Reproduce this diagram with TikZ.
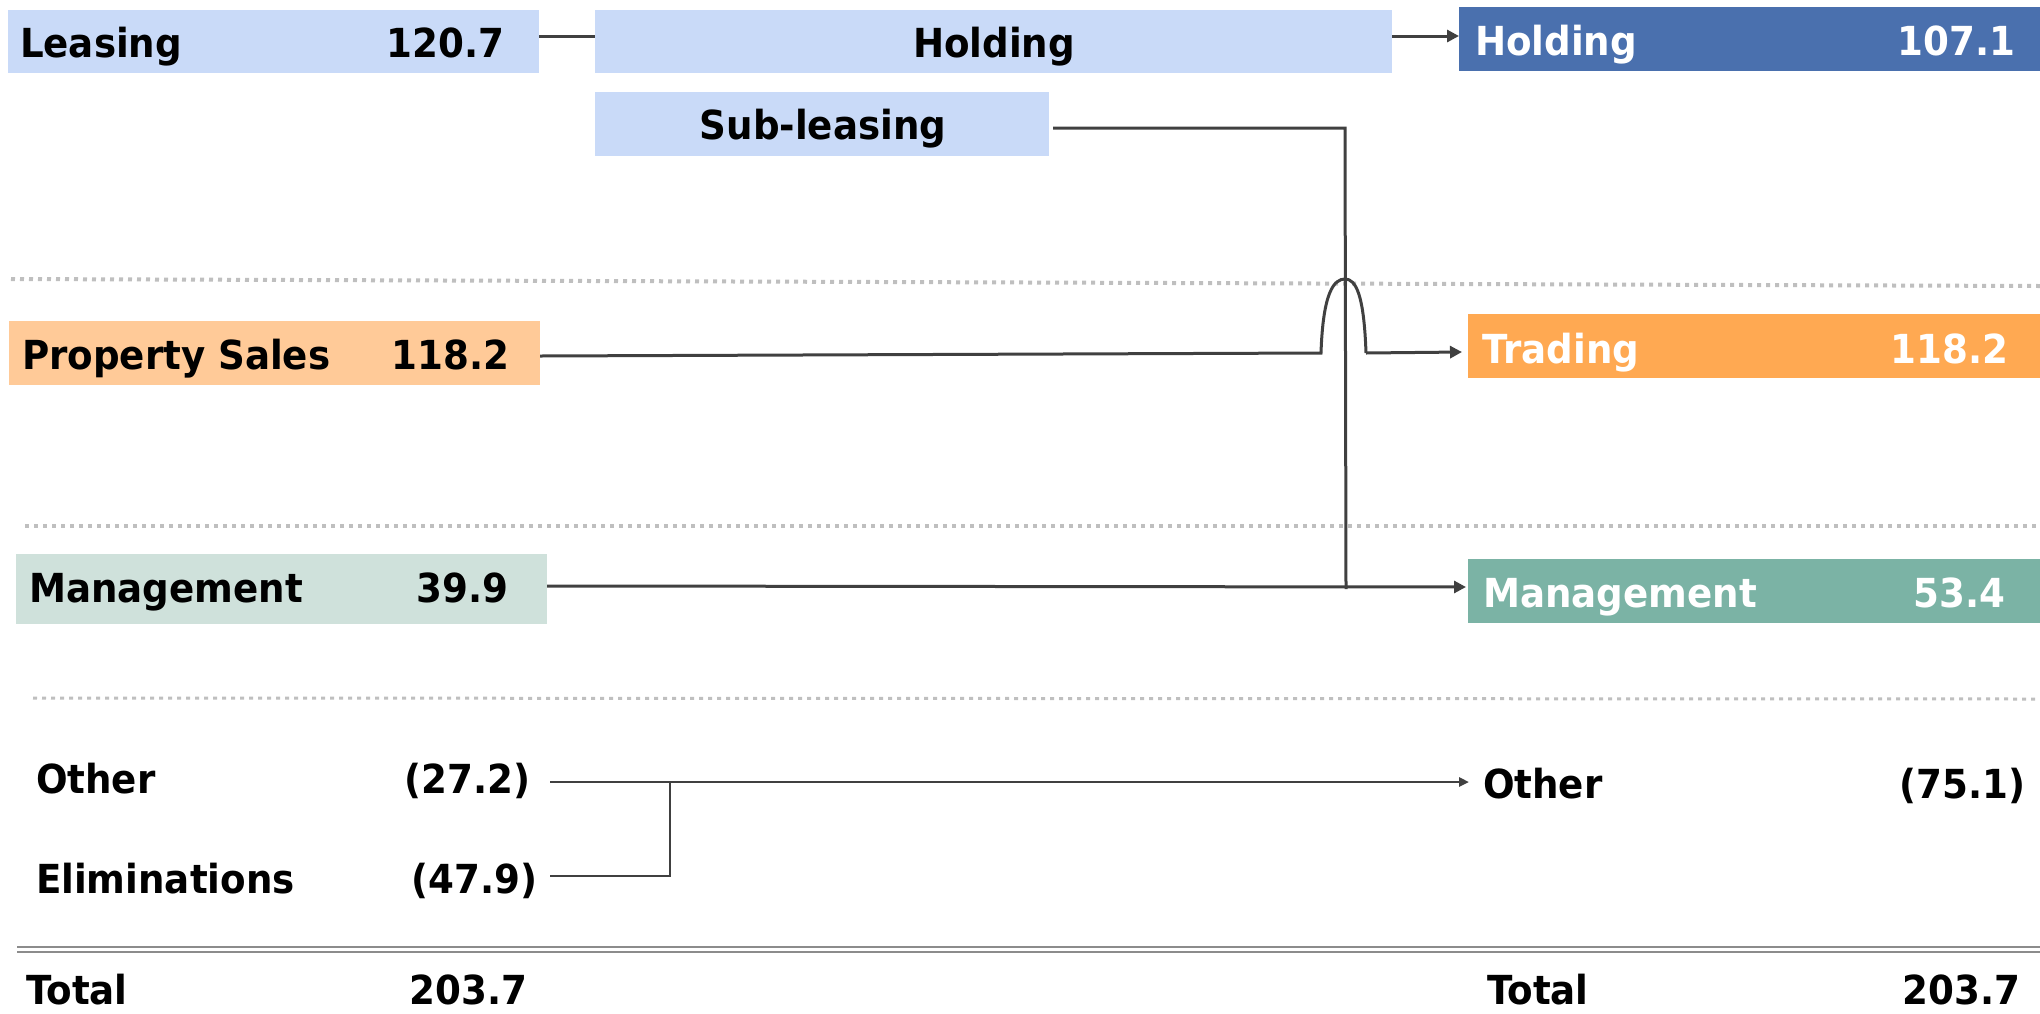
\documentclass[tikz,border=0pt]{standalone}
\usepackage{fontspec}
\setmainfont{DejaVu Sans}[FakeStretch=0.93]
\usetikzlibrary{arrows.meta}
\definecolor{lblue}{HTML}{C9DAF8}
\definecolor{dblue}{HTML}{4A70AE}
\definecolor{lorange}{HTML}{FFCA98}
\definecolor{dorange}{HTML}{FFA952}
\definecolor{lgreen}{HTML}{CFE1DB}
\definecolor{dgreen}{HTML}{7BB3A5}
\definecolor{ln}{HTML}{404040}
\definecolor{dotc}{HTML}{BFBFBF}
\definecolor{dbl}{HTML}{8C8C8C}
\tikzset{
  box/.style={rectangle, inner sep=0pt, outer sep=0pt, draw=none},
  lbl/.style={inner sep=0pt, outer sep=0pt, font=\fontsize{40}{48}\selectfont\bfseries},
  wlbl/.style={lbl, text=white},
  conn/.style={draw=ln, line width=3pt},
  arr/.style={conn, -{Triangle[length=12pt,width=12pt]}},
  sep/.style={draw=dotc, line width=4pt, dash pattern=on 4pt off 5pt},
}
\begin{document}
\begin{tikzpicture}[x=1pt,y=-1pt]
\useasboundingbox (0,0) rectangle (2040,1013);
% separators
\draw[sep] (11,279) -- (2040,286);
\draw[sep] (25,526) -- (2040,526);
\draw[sep, line width=3pt] (33,698) -- (2040,699);
\draw[draw=dbl, line width=2pt] (17,947) -- (2040,947);
\draw[draw=dbl, line width=2pt] (17,952) -- (2040,952);
% boxes
\node[box, fill=lblue, minimum width=531pt, minimum height=63pt] (leasing) at (273.5,41.5) {};
\node[box, fill=lblue, minimum width=797pt, minimum height=63pt] (holdc) at (993.5,41.5) {};
\node[box, fill=dblue, minimum width=581pt, minimum height=64pt] (holdr) at (1749.5,39) {};
\node[box, fill=lblue, minimum width=454pt, minimum height=64pt] (sub) at (822,124) {};
\node[box, fill=lorange, minimum width=531pt, minimum height=64pt] (prop) at (274.5,353) {};
\node[box, fill=dorange, minimum width=572pt, minimum height=64pt] (trad) at (1754,346) {};
\node[box, fill=lgreen, minimum width=531pt, minimum height=70pt] (mgml) at (281.5,589) {};
\node[box, fill=dgreen, minimum width=572pt, minimum height=64pt] (mgmr) at (1754,591) {};
% texts
\node[lbl, anchor=base west] (tleas) at (20,57) {Leasing};
\node[lbl, anchor=base east] (vleas) at (504,57) {120.7};
\node[lbl, anchor=base] (thold) at (994,57) {Holding};
\node[wlbl, anchor=base west] (tholdr) at (1475,55) {Holding};
\node[wlbl, anchor=base east] (vholdr) at (2015,55) {107.1};
\node[lbl, anchor=base] (tsub) at (823,139) {Sub-leasing};
\node[lbl, anchor=base west] (tprop) at (22,369) {Property Sales};
\node[lbl, anchor=base east] (vprop) at (509,369) {118.2};
\node[wlbl, anchor=base west] (ttrad) at (1482,363) {Trading};
\node[wlbl, anchor=base east] (vtrad) at (2008,363) {118.2};
\node[lbl, anchor=base west] (tmgml) at (29,602) {Management};
\node[lbl, anchor=base east] (vmgml) at (508,602) {39.9};
\node[wlbl, anchor=base west] (tmgmr) at (1483,607) {Management};
\node[wlbl, anchor=base east] (vmgmr) at (2005,607) {53.4};
\node[lbl, anchor=base west] (tothl) at (36,793) {Other};
\node[lbl, anchor=base east] (vothl) at (530,793) {(27.2)};
\node[lbl, anchor=base west] (telim) at (36,893) {Eliminations};
\node[lbl, anchor=base east] (velim) at (537,893) {(47.9)};
\node[lbl, anchor=base west] (tothr) at (1483,798) {Other};
\node[lbl, anchor=base east] (vothr) at (2025,798) {(75.1)};
\node[lbl, anchor=base west] (ttotl) at (26,1004) {Total};
\node[lbl, anchor=base east] (vtotl) at (527,1004) {203.7};
\node[lbl, anchor=base west] (ttotr) at (1487,1004) {Total};
\node[lbl, anchor=base east] (vtotr) at (2020,1004) {203.7};
% coordinates
\coordinate (archL) at (1321,353);
\coordinate (archT) at (1345,279);
\coordinate (archR) at (1366,353);
\coordinate (subC) at (1345,128);
\coordinate (subB) at (1346,589);
\coordinate (othS) at (550,782);
\coordinate (elimS) at (550,876);
\coordinate (joinB) at (670,876);
\coordinate (joinT) at (670,782);
% connectors
\draw[conn] ([yshift=5.5pt]leasing.east) -- ([yshift=5.5pt]holdc.west);
\draw[arr] ([yshift=5.5pt]holdc.east) -- ([yshift=3pt]holdr.west);
\draw[conn] ([xshift=4pt,yshift=-4pt]sub.east) -- (subC) -- (subB);
\draw[conn] ([yshift=-3pt]prop.east) -- (archL)
  .. controls (1323,292) and (1334,279) .. (archT)
  .. controls (1356,279) and (1364,295) .. (archR);
\draw[arr] (archR) -- ([xshift=-6pt,yshift=-6pt]trad.west);
\draw[arr] ([yshift=3pt]mgml.east) -- ([xshift=-2pt,yshift=4pt]mgmr.west);
\draw[conn, line width=2.5pt] (elimS) -- (joinB) -- (joinT);
\draw[arr, line width=2.5pt, -{Triangle[length=10pt,width=9pt]}] (othS) -- (1469,782);
\end{tikzpicture}
\end{document}
